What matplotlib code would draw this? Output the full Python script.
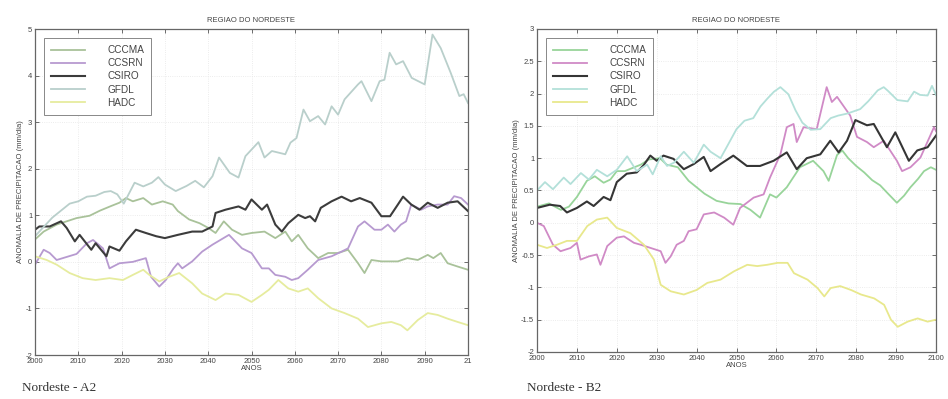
import matplotlib
matplotlib.use("Agg")
import matplotlib.pyplot as plt
import numpy as np

models = ["CCCMA", "CCSRN", "CSIRO", "GFDL", "HADC"]

# ---------------- Left panel (A2) ----------------
a2_cccma_x = [2000, 2002, 2005, 2007.3, 2009.6, 2012.6, 2015, 2017.6, 2019.5, 2021, 2022.6, 2025, 2027, 2029.5, 2031.8, 2033, 2035.6, 2038, 2040, 2041.7, 2043.6, 2045.5, 2047.8, 2050, 2053, 2055.5, 2057.8, 2059.3, 2060.8, 2063, 2065.4, 2067.7, 2070, 2072.3, 2074.6, 2076.1, 2077.7, 2080, 2083.8, 2086, 2088.4, 2090.7, 2092, 2093.7, 2095.3, 2097.6, 2100]
a2_cccma_y = [0.48, 0.65, 0.8, 0.87, 0.94, 0.99, 1.1, 1.2, 1.27, 1.37, 1.3, 1.37, 1.23, 1.3, 1.23, 1.09, 0.91, 0.83, 0.73, 0.62, 0.87, 0.69, 0.58, 0.62, 0.65, 0.51, 0.65, 0.44, 0.58, 0.29, 0.08, 0.19, 0.19, 0.26, -0.03, -0.24, 0.04, 0.01, 0.01, 0.08, 0.04, 0.15, 0.08, 0.19, -0.03, -0.1, -0.17]

a2_ccsrn_x = [2000, 2002, 2003.4, 2005, 2009.6, 2012, 2013.4, 2015.7, 2017.2, 2019.5, 2022.6, 2025.6, 2026.8, 2028.7, 2030.2, 2032, 2033, 2034, 2036.3, 2038.6, 2041, 2044.8, 2047.8, 2050, 2052.4, 2054, 2055.5, 2057.8, 2059.3, 2060.8, 2063, 2065.4, 2068.5, 2070.8, 2072.3, 2074.6, 2076.1, 2078.4, 2080, 2081.5, 2083, 2084.5, 2085.7, 2086.9, 2089.2, 2090.7, 2093, 2095.3, 2096.8, 2098.4, 2100]
a2_ccsrn_y = [-0.06, 0.26, 0.19, 0.04, 0.17, 0.4, 0.47, 0.29, -0.14, -0.03, 0.0, 0.08, -0.32, -0.53, -0.39, -0.14, -0.03, -0.14, 0.01, 0.22, 0.37, 0.58, 0.29, 0.19, -0.14, -0.14, -0.28, -0.32, -0.39, -0.35, -0.17, 0.04, 0.12, 0.22, 0.29, 0.76, 0.87, 0.69, 0.69, 0.8, 0.65, 0.8, 0.87, 1.23, 1.12, 1.19, 1.23, 1.23, 1.41, 1.37, 1.23]

a2_csiro_x = [2000, 2001, 2003.4, 2006, 2007.3, 2009.2, 2010.3, 2013, 2014, 2016.5, 2017.2, 2019.5, 2021, 2023.3, 2025.6, 2028, 2030, 2033, 2036.3, 2038.6, 2041, 2041.7, 2044, 2047, 2048.6, 2050, 2052.4, 2053.6, 2055.5, 2057, 2058.5, 2060.8, 2062.4, 2063.5, 2064.7, 2066, 2068.5, 2070.8, 2073, 2075, 2077.7, 2080, 2082, 2083.8, 2085, 2086.9, 2088.8, 2090.7, 2093, 2095.3, 2097.6, 2100]
a2_csiro_y = [0.69, 0.76, 0.76, 0.87, 0.73, 0.44, 0.58, 0.26, 0.4, 0.12, 0.33, 0.24, 0.44, 0.69, 0.62, 0.55, 0.51, 0.58, 0.65, 0.65, 0.76, 1.05, 1.12, 1.19, 1.12, 1.34, 1.12, 1.23, 0.8, 0.65, 0.83, 1.01, 0.94, 0.98, 0.87, 1.16, 1.3, 1.4, 1.3, 1.37, 1.27, 0.98, 0.98, 1.23, 1.4, 1.23, 1.12, 1.27, 1.16, 1.27, 1.3, 1.09]

a2_gfdl_x = [2000, 2002, 2004, 2006, 2008, 2010, 2012, 2014, 2016, 2017.5, 2019, 2020.5, 2023, 2025, 2027, 2028.5, 2030, 2032.5, 2035, 2037, 2039, 2041, 2042.5, 2045, 2047, 2048.6, 2051.6, 2053, 2054.7, 2057.8, 2059, 2060.4, 2062, 2063.5, 2065.4, 2067, 2068.5, 2070, 2071.5, 2074.6, 2075.4, 2077.7, 2079.6, 2080.7, 2081.9, 2083.4, 2085, 2087, 2090, 2091.8, 2093.7, 2096, 2098, 2099, 2100]
a2_gfdl_y = [0.55, 0.75, 0.95, 1.1, 1.25, 1.3, 1.4, 1.42, 1.5, 1.52, 1.45, 1.25, 1.7, 1.62, 1.7, 1.82, 1.66, 1.52, 1.63, 1.74, 1.6, 1.84, 2.24, 1.91, 1.81, 2.27, 2.57, 2.24, 2.38, 2.31, 2.56, 2.66, 3.27, 3.02, 3.13, 2.95, 3.34, 3.16, 3.49, 3.81, 3.88, 3.45, 3.88, 3.91, 4.49, 4.24, 4.31, 3.95, 3.81, 4.88, 4.59, 4.06, 3.56, 3.6, 3.41]

a2_hadc_x = [2000, 2002.7, 2005, 2008, 2011, 2014, 2017.2, 2020.3, 2022.6, 2025, 2026.4, 2028.7, 2031, 2033.3, 2036.3, 2038.6, 2041.7, 2044, 2047, 2050, 2052.4, 2054, 2056.2, 2058.5, 2060.8, 2063, 2065.4, 2068.5, 2071.5, 2074.6, 2076.9, 2080, 2082.3, 2084.5, 2086, 2088.4, 2090.7, 2093, 2095.3, 2097.6, 2100]
a2_hadc_y = [0.12, 0.04, -0.06, -0.24, -0.35, -0.39, -0.35, -0.39, -0.28, -0.17, -0.28, -0.42, -0.32, -0.24, -0.46, -0.68, -0.82, -0.68, -0.71, -0.86, -0.71, -0.6, -0.39, -0.57, -0.64, -0.57, -0.78, -1.0, -1.1, -1.22, -1.4, -1.32, -1.29, -1.36, -1.47, -1.25, -1.1, -1.14, -1.22, -1.29, -1.36]

# ---------------- Right panel (B2) ----------------
b2_cccma_x = [2000, 2003, 2006, 2008, 2010, 2012.5, 2014.5, 2016.7, 2018.4, 2020, 2022, 2024, 2026, 2028, 2030.8, 2032.5, 2035.3, 2038, 2040, 2042, 2045, 2048, 2051, 2053.5, 2055.9, 2058.4, 2060, 2062.6, 2065.9, 2069.2, 2071.8, 2073.1, 2075.2, 2076.5, 2078, 2080, 2082, 2084, 2086, 2088, 2090.2, 2092, 2093.6, 2095.5, 2097, 2098.7, 2100]
b2_cccma_y = [0.25, 0.3, 0.2, 0.25, 0.4, 0.65, 0.72, 0.62, 0.67, 0.8, 0.8, 0.85, 0.9, 0.98, 1.0, 0.9, 0.86, 0.65, 0.55, 0.45, 0.34, 0.3, 0.29, 0.2, 0.08, 0.44, 0.39, 0.55, 0.86, 0.96, 0.8, 0.65, 1.05, 1.12, 1.0, 0.88, 0.78, 0.66, 0.58, 0.45, 0.31, 0.42, 0.55, 0.68, 0.8, 0.86, 0.82]

b2_ccsrn_x = [2000, 2001.7, 2004, 2005.9, 2008.4, 2010, 2010.9, 2013, 2015, 2015.9, 2017.6, 2020, 2021.8, 2024.3, 2026, 2028.5, 2031, 2032.2, 2033.5, 2035, 2036.8, 2038, 2040, 2041.8, 2044.4, 2046.9, 2049.2, 2050.9, 2054.3, 2056.8, 2058.4, 2061, 2062.6, 2064.3, 2065.1, 2066.8, 2070.1, 2072.6, 2073.9, 2075.2, 2078.5, 2080.2, 2082.7, 2084.4, 2086.9, 2090.2, 2091.5, 2093.6, 2096.1, 2099.5, 2100]
b2_ccsrn_y = [0.0, -0.05, -0.34, -0.44, -0.39, -0.31, -0.57, -0.52, -0.49, -0.65, -0.36, -0.23, -0.21, -0.31, -0.34, -0.39, -0.44, -0.62, -0.52, -0.34, -0.28, -0.13, -0.1, 0.13, 0.16, 0.08, -0.03, 0.23, 0.39, 0.44, 0.7, 1.06, 1.48, 1.53, 1.25, 1.48, 1.45, 2.1, 1.87, 1.95, 1.66, 1.33, 1.25, 1.17, 1.27, 0.96, 0.8, 0.86, 1.01, 1.48, 1.42]

b2_csiro_x = [2000, 2003.2, 2005.8, 2007.5, 2010, 2012.5, 2014.2, 2016.7, 2018.4, 2020, 2022.5, 2025, 2026.7, 2028.4, 2030, 2031.7, 2034.2, 2036.8, 2039.3, 2041.8, 2043.5, 2046, 2049.2, 2052.6, 2055.9, 2059.3, 2062.6, 2065.1, 2067.6, 2071, 2073.5, 2075.6, 2077.7, 2079.8, 2082.7, 2084.4, 2087.7, 2089.8, 2093.2, 2095.3, 2097.9, 2100]
b2_csiro_y = [0.23, 0.28, 0.26, 0.16, 0.23, 0.33, 0.26, 0.4, 0.35, 0.63, 0.76, 0.78, 0.89, 1.04, 0.96, 1.04, 0.99, 0.83, 0.91, 1.02, 0.8, 0.91, 1.04, 0.88, 0.88, 0.96, 1.09, 0.83, 1.0, 1.06, 1.27, 1.09, 1.27, 1.59, 1.51, 1.53, 1.17, 1.4, 0.96, 1.12, 1.17, 1.35]

b2_gfdl_x = [2000, 2002, 2004, 2006.7, 2008.4, 2011, 2013, 2015, 2017.6, 2020, 2022.6, 2025, 2027.6, 2029, 2031, 2032.6, 2034.3, 2036.8, 2039.3, 2041.8, 2043.5, 2046, 2047.7, 2050, 2052, 2054.2, 2056, 2057.7, 2059.4, 2061, 2063, 2064.8, 2066.5, 2068.6, 2071, 2073.6, 2075.5, 2077.7, 2081, 2083, 2085.4, 2086.9, 2088, 2090.3, 2092.9, 2094.5, 2096, 2097.9, 2099, 2100]
b2_gfdl_y = [0.5, 0.63, 0.52, 0.7, 0.6, 0.77, 0.67, 0.82, 0.72, 0.82, 1.03, 0.8, 0.9, 0.75, 1.03, 0.88, 0.93, 1.1, 0.93, 1.21, 1.1, 1.0, 1.19, 1.45, 1.58, 1.62, 1.8, 1.92, 2.03, 2.1, 1.99, 1.74, 1.55, 1.44, 1.45, 1.62, 1.66, 1.69, 1.76, 1.88, 2.05, 2.1, 2.04, 1.9, 1.88, 2.03, 1.98, 1.97, 2.12, 1.98]

b2_hadc_x = [2000, 2002.5, 2005, 2007.5, 2010, 2012.6, 2015, 2017.6, 2020, 2023.4, 2026.8, 2029.3, 2031, 2033.5, 2036.8, 2040, 2042.7, 2046, 2049.4, 2052.7, 2055.2, 2057.7, 2060.3, 2062.8, 2064.4, 2067.8, 2070.3, 2072, 2073.6, 2076, 2078.7, 2081.2, 2084.5, 2087, 2088.7, 2090.4, 2092.9, 2095.4, 2097.9, 2100]
b2_hadc_y = [-0.34, -0.39, -0.34, -0.28, -0.28, -0.05, 0.05, 0.08, -0.08, -0.16, -0.34, -0.57, -0.96, -1.06, -1.11, -1.04, -0.93, -0.88, -0.75, -0.65, -0.67, -0.65, -0.62, -0.62, -0.78, -0.88, -1.01, -1.14, -1.01, -0.98, -1.04, -1.11, -1.17, -1.27, -1.5, -1.61, -1.53, -1.48, -1.53, -1.5]

a2_series = [(a2_cccma_x, a2_cccma_y), (a2_ccsrn_x, a2_ccsrn_y), (a2_csiro_x, a2_csiro_y),
             (a2_gfdl_x, a2_gfdl_y), (a2_hadc_x, a2_hadc_y)]
b2_series = [(b2_cccma_x, b2_cccma_y), (b2_ccsrn_x, b2_ccsrn_y), (b2_csiro_x, b2_csiro_y),
             (b2_gfdl_x, b2_gfdl_y), (b2_hadc_x, b2_hadc_y)]

a2_colors = ["#a9c29a", "#b79ad0", "#3c3c3c", "#b9cfcb", "#e6ec9e"]
b2_colors = ["#98d49a", "#d08ac6", "#353535", "#b3e0d9", "#e8e88c"]
widths = [1.3, 1.3, 1.5, 1.3, 1.3]

xticks = list(range(2000, 2101, 10))
a2_xticklabels = [str(t) for t in xticks[:-1]] + ["21"]
b2_xticklabels = [str(t) for t in xticks]
a2_yticks = [-2, -1, 0, 1, 2, 3, 4, 5]
a2_yticklabels = ["-2", "-1", "0", "1", "2", "3", "4", "5"]
b2_yticks = [-2, -1.5, -1, -0.5, 0, 0.5, 1, 1.5, 2, 2.5, 3]
b2_yticklabels = ["-2", "-1.5", "-1", "-0.5", "0", "0.5", "1", "1.5", "2", "2.5", "3"]

title = "REGIAO DO NORDESTE"
xlabel = "ANOS"
ylabel = "ANOMALIA DE PRECIPITACAO (mm/dia)"
captions = ["Nordeste - A2", "Nordeste - B2"]

plt.rcParams['font.family'] = ['Liberation Sans', 'DejaVu Sans']

fig = plt.figure(figsize=(9.48, 3.99), dpi=100)
ax1 = fig.add_axes([35/948, 1-355/399, 433/948, 326/399])
ax2 = fig.add_axes([537/948, 1-352/399, 399/948, 323/399])

def style(ax, series, colors, yticks, yticklabels, xticklabels, ylim, legend_w):
    for (x, y), c, lw, name in zip(series, colors, widths, models):
        ax.plot(x, y, color=c, lw=lw, label=name)
    ax.set_xlim(2000, 2100)
    ax.set_ylim(*ylim)
    ax.set_xticks(xticks)
    ax.set_xticklabels(xticklabels)
    ax.set_yticks(yticks)
    ax.set_yticklabels(yticklabels)
    ax.tick_params(direction='in', top=True, right=True, labelsize=5.5, length=3,
                   width=0.6, color='#555555', labelcolor='#444444', pad=2)
    ax.grid(True, color='#e6e6e6', lw=0.6, ls=':')
    for s in ax.spines.values():
        s.set_color('#666666')
        s.set_linewidth(0.9)
    ax.set_title(title, fontsize=5.5, color='#444444', pad=5)
    ax.set_xlabel(xlabel, fontsize=5.5, color='#444444', labelpad=0)
    ax.set_ylabel(ylabel, fontsize=5.5, color='#444444', labelpad=1)
    leg = ax.legend(loc='upper left', fontsize=7.2, handlelength=3.4, handletextpad=2.2,
                    labelspacing=0.32, borderpad=0.7, fancybox=False, framealpha=1,
                    edgecolor='#888888', borderaxespad=0.9)
    leg.get_frame().set_linewidth(0.7)
    for t in leg.get_texts():
        t.set_color('#444444')

style(ax1, a2_series, a2_colors, a2_yticks, a2_yticklabels, a2_xticklabels, (-2, 5), 120)
style(ax2, b2_series, b2_colors, b2_yticks, b2_yticklabels, b2_xticklabels, (-2, 3), 112)

fig.text(22/948, 1-391/399, captions[0], fontsize=9.5, family=['Liberation Serif', 'DejaVu Serif'],
         color='#333333', va='baseline')
fig.text(527/948, 1-391/399, captions[1], fontsize=9.5, family=['Liberation Serif', 'DejaVu Serif'],
         color='#333333', va='baseline')

fig.savefig("out.png", dpi=100)
